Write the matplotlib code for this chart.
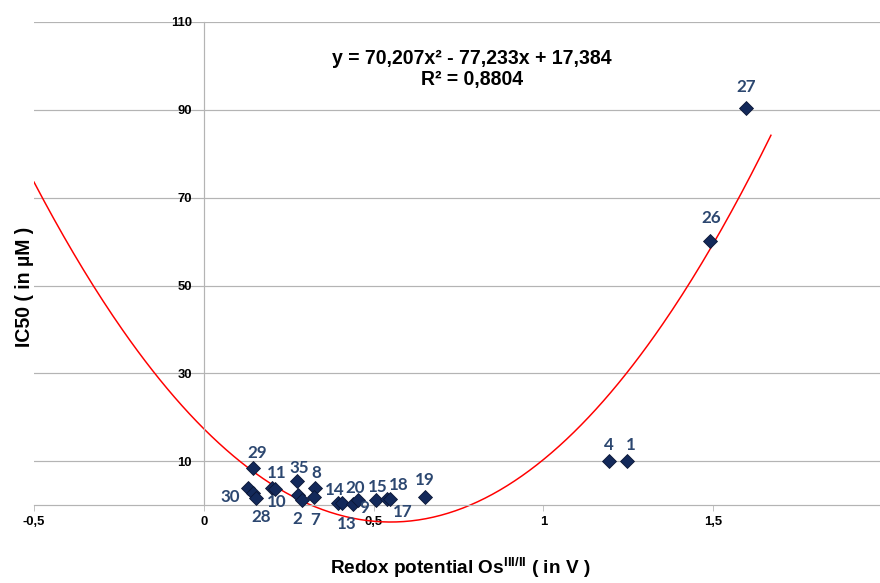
import matplotlib
matplotlib.use("Agg")
import matplotlib.pyplot as plt
import numpy as np

plt.rcParams['font.family'] = ['Liberation Sans', 'DejaVu Sans']
plt.rcParams['mathtext.fontset'] = 'custom'
plt.rcParams['mathtext.rm'] = 'Liberation Sans:bold'
plt.rcParams['mathtext.bf'] = 'Liberation Sans:bold'

# compound data (redox potential in V, IC50 in uM)
labels = ["29", "30", "", "28", "11", "10", "35", "2", "", "8", "7",
          "14", "13", "9", "20", "15", "18", "17", "19", "4", "1", "26", "27"]
redox = [0.145, 0.130, 0.145, 0.155, 0.201, 0.209, 0.273, 0.278, 0.289, 0.327, 0.325,
         0.396, 0.406, 0.438, 0.455, 0.507, 0.538, 0.548, 0.651, 1.193, 1.246, 1.490, 1.596]
ic50 = [8.5, 3.8, 2.7, 1.5, 3.9, 3.6, 5.5, 2.4, 1.1, 4.0, 1.9,
        0.5, 0.5, 0.2, 1.1, 1.1, 1.3, 1.3, 1.9, 10.0, 10.0, 60.1, 90.4]

# trendline coefficients as printed on the chart
coef = [70.207, -77.233, 17.384]
fit_range = (-0.5, 1.67)

xticks = [-0.5, 0, 0.5, 1, 1.5]
xtick_labels = ["-0,5", "0", "0,5", "1", "1,5"]
yticks = [10, 30, 50, 70, 90, 110]

# label offsets (points) relative to the marker
offsets = {"29": (4, 15), "30": (-18, -9), "28": (5, -19), "11": (5, 15), "10": (2, -13),
           "35": (3, 13), "2": (-1, -24), "8": (1, 15), "7": (1, -23), "14": (-4, 13),
           "13": (5, -21), "9": (12, -4), "20": (-3, 12), "15": (2, 13), "18": (12, 14),
           "17": (13, -13), "19": (0, 17), "4": (0, 16), "1": (4, 16), "26": (1, 23),
           "27": (0, 21)}

fig = plt.figure(figsize=(880 / 72, 583 / 72), dpi=72)
ax = fig.add_axes([34 / 880, 1 - 549 / 583, 849 / 880, 527 / 583])
ax.set_xlim(-0.5, 2.0)
ax.set_ylim(-10, 110)

grid_col = '#B4B4B4'
ax.set_yticks(yticks)
ax.yaxis.grid(True, color=grid_col, linewidth=1.2)
ax.set_axisbelow(True)

for s in ['top', 'right']:
    ax.spines[s].set_visible(False)
ax.spines['left'].set_position(('data', 0))
ax.spines['left'].set_bounds(0, 110)
ax.spines['bottom'].set_position(('data', 0))
ax.spines['left'].set_color(grid_col)
ax.spines['bottom'].set_color(grid_col)
ax.spines['left'].set_linewidth(1.2)
ax.spines['bottom'].set_linewidth(1.2)

ax.set_xticks(xticks)
ax.set_xticklabels(xtick_labels)
ax.tick_params(axis='x', direction='out', length=6, color=grid_col, pad=5,
               labelsize=13)
ax.tick_params(axis='y', length=0, pad=12, labelsize=13)
for t in ax.get_xticklabels() + ax.get_yticklabels():
    t.set_fontweight('bold')

xs = np.linspace(fit_range[0], fit_range[1], 300)
ax.plot(xs, np.polyval(coef, xs), color='#FF0000', linewidth=1.5, zorder=2)

ax.plot(redox, ic50, linestyle='none', marker='D', markersize=9.5,
        markerfacecolor='#13295A', markeredgecolor='#0A1533', markeredgewidth=0.8, zorder=3)

for lab, x, y in zip(labels, redox, ic50):
    if not lab:
        continue
    ax.annotate(lab, (x, y), xytext=offsets[lab], textcoords='offset points',
                ha='center', va='center', fontsize=17, fontweight='bold',
                color='#2C4770', family=['Lato', 'DejaVu Sans'], zorder=4)

ax.text(0.79, 1.0 - (58 - 22) / 527, "y = 70,207x² - 77,233x + 17,384",
        transform=ax.get_xaxis_transform(), ha='center', va='center',
        fontsize=19.5, fontweight='bold')
ax.text(0.79, 1.0 - (80 - 22) / 527, "R² = 0,8804",
        transform=ax.get_xaxis_transform(), ha='center', va='center',
        fontsize=19.5, fontweight='bold')

fig.text(24 / 880, 1 - 287 / 583, "IC50 ( in µM )", rotation=90, ha='center', va='center',
         fontsize=19.5, fontweight='bold')
fig.text(460 / 880, 1 - 568 / 583, r"Redox potential Os$^{\mathrm{III/II}}$ ( in V )",
         ha='center', va='center', fontsize=19, fontweight='bold')

fig.savefig("out.png", dpi=72)
